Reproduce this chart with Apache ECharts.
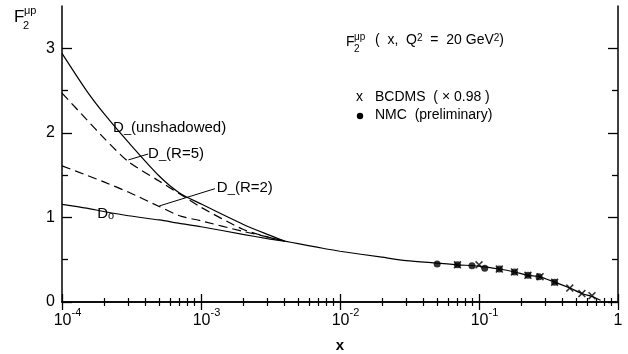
<!DOCTYPE html>
<html><head><meta charset="utf-8">
<script src="https://cdn.jsdelivr.net/npm/echarts@6/dist/echarts.min.js"></script>
<style>html,body{margin:0;padding:0;background:#fff}#c{width:628px;height:354px}</style>
</head><body><div id="c"></div>
<script>
// ---- tick values ----
const xTicksMajor = [1e-4, 1e-3, 1e-2, 1e-1, 1];
const xTicksMinor = [2e-4,3e-4,4e-4,5e-4,6e-4,7e-4,8e-4,9e-4,
                     2e-3,3e-3,4e-3,5e-3,6e-3,7e-3,8e-3,9e-3,
                     2e-2,3e-2,4e-2,5e-2,6e-2,7e-2,8e-2,9e-2,
                     0.2,0.3,0.4,0.5,0.6,0.7,0.8,0.9];
const yTicksMajor = [0, 1, 2, 3];
const yTicksMinor = [0.5, 1.5, 2.5];

// ---- model curves (small x, split) ----
const curveX      = [1e-4, 1.5e-4, 2e-4, 3e-4, 5e-4, 7e-4, 1e-3, 2e-3, 3e-3, 4e-3];
const dUnshadowed = [2.94, 2.50, 2.23, 1.89, 1.49, 1.29, 1.16, 0.92, 0.80, 0.72];
const dR5         = [2.47, 2.16, 1.94, 1.66, 1.43, 1.28, 1.12, 0.86, 0.77, 0.72];
const dR2         = [1.61, 1.50, 1.42, 1.30, 1.13, 1.02, 0.96, 0.835, 0.77, 0.72];
const d0          = [1.155, 1.11, 1.07, 1.02, 0.97, 0.93, 0.89, 0.80, 0.75, 0.72];

// ---- common curve (large x) ----
const commonX = [4e-3, 5e-3, 7e-3, 1e-2, 2e-2, 3e-2, 5e-2, 7e-2, 0.1, 0.14, 0.18, 0.225, 0.27, 0.35, 0.45, 0.55, 0.65, 0.75];
const commonY = [0.72, 0.69, 0.645, 0.60, 0.53, 0.49, 0.46, 0.44, 0.425, 0.39, 0.355, 0.315, 0.30, 0.235, 0.165, 0.10, 0.065, 0.02];

// ---- data ----
const nmcX    = [0.05, 0.07, 0.089, 0.11, 0.14, 0.18, 0.225, 0.27, 0.35];
const nmcY    = [0.45, 0.44, 0.43, 0.40, 0.39, 0.355, 0.315, 0.30, 0.235];
const bcdmsX  = [0.07, 0.10, 0.14, 0.18, 0.225, 0.275, 0.35, 0.45, 0.55, 0.65];
const bcdmsY  = [0.44, 0.44, 0.39, 0.355, 0.315, 0.30, 0.235, 0.165, 0.10, 0.075];

// ---- annotation anchors (data coords) ----
const labelUnsh = [2.33e-4, 2.08];
const labelR5   = [4.16e-4, 1.77];
const labelR2   = [1.30e-3, 1.37];
const labelD0   = [1.79e-4, 1.06];
const arrowR5   = [[4.17e-4, 1.75], [3.0e-4, 1.68]];
const arrowR2   = [[1.26e-3, 1.34], [5.0e-4, 1.135]];

const FONT = 'Liberation Sans';
const zip = (xs, ys) => xs.map((x, i) => [x, ys[i]]);

const chart = echarts.init(document.getElementById('c'), null, {renderer: 'canvas'});

const baseX = {type: 'log', logBase: 10, min: 1e-4, max: 1, gridIndex: 0, splitLine: {show: false}};
const baseY = {type: 'value', min: 0, max: 3.5, gridIndex: 0, splitLine: {show: false}};
const axLine = {show: true, lineStyle: {color: '#000', width: 1.5}};

const xFmt = v => {
  const e = Math.round(Math.log10(v));
  return e === 0 ? '{b|1}' : '{p|}{b|10}{s|' + e + '}';
};

const lineCommon = {type: 'line', showSymbol: false, xAxisIndex: 0, yAxisIndex: 0, smooth: 0.25, silent: true};

chart.setOption({
  animation: false,
  backgroundColor: '#fff',
  grid: {left: 62, right: 10, top: 6, bottom: 52, containLabel: false, outerBoundsMode: 'none'},
  xAxis: [
    Object.assign({}, baseX, {position: 'bottom', axisLine: axLine,
      axisTick: {show: true, inside: true, length: 8, lineStyle: {color: '#000', width: 1.3}, customValues: xTicksMajor},
      axisLabel: {show: true, margin: 5, customValues: xTicksMajor, formatter: xFmt, color: '#000',
        rich: {
          b: {fontFamily: FONT, fontSize: 16, color: '#000', lineHeight: 22, verticalAlign: 'bottom'},
          s: {fontFamily: FONT, fontSize: 11, color: '#000', lineHeight: 12, verticalAlign: 'top'},
          p: {width: 11}
        }},
      name: 'x', nameLocation: 'middle', nameGap: 36,
      nameTextStyle: {fontFamily: FONT, fontSize: 15, fontWeight: 'bold', color: '#000'}}),
    Object.assign({}, baseX, {position: 'bottom', axisLine: {show: false},
      axisTick: {show: true, inside: true, length: 4, lineStyle: {color: '#000', width: 1.2}, customValues: xTicksMinor},
      axisLabel: {show: false}}),
    Object.assign({}, baseX, {position: 'top', axisLine: axLine,
      axisTick: {show: true, inside: true, length: 8, lineStyle: {color: '#000', width: 1.3}, customValues: xTicksMajor},
      axisLabel: {show: false}}),
    Object.assign({}, baseX, {position: 'top', axisLine: {show: false},
      axisTick: {show: true, inside: true, length: 4, lineStyle: {color: '#000', width: 1.2}, customValues: xTicksMinor},
      axisLabel: {show: false}})
  ],
  yAxis: [
    Object.assign({}, baseY, {position: 'left', axisLine: axLine,
      axisTick: {show: true, inside: true, length: 10, lineStyle: {color: '#000', width: 1.3}, customValues: yTicksMajor},
      axisLabel: {show: true, margin: 7, customValues: yTicksMajor, fontFamily: FONT, fontSize: 16, color: '#000'}}),
    Object.assign({}, baseY, {position: 'left', axisLine: {show: false},
      axisTick: {show: true, inside: true, length: 6, lineStyle: {color: '#000', width: 1.3}, customValues: yTicksMinor},
      axisLabel: {show: false}}),
    Object.assign({}, baseY, {position: 'right', axisLine: axLine,
      axisTick: {show: true, inside: true, length: 10, lineStyle: {color: '#000', width: 1.3}, customValues: yTicksMajor},
      axisLabel: {show: false}}),
    Object.assign({}, baseY, {position: 'right', axisLine: {show: false},
      axisTick: {show: true, inside: true, length: 6, lineStyle: {color: '#000', width: 1.3}, customValues: yTicksMinor},
      axisLabel: {show: false}})
  ],
  series: [
    Object.assign({}, lineCommon, {name: 'D- unshadowed', data: zip(curveX, dUnshadowed),
      lineStyle: {color: '#000', width: 1.2}}),
    Object.assign({}, lineCommon, {name: 'D- R=5', data: zip(curveX, dR5),
      lineStyle: {color: '#000', width: 1.2, type: [9, 5]},
      markLine: {silent: true, symbol: ['none', 'arrow'], symbolSize: [0, 7], animation: false,
        lineStyle: {color: '#000', width: 1, type: 'solid'}, label: {show: false},
        data: [
          [{coord: arrowR5[0]}, {coord: arrowR5[1]}],
          [{coord: arrowR2[0]}, {coord: arrowR2[1]}]
        ]}}),
    Object.assign({}, lineCommon, {name: 'D- R=2', data: zip(curveX, dR2),
      lineStyle: {color: '#000', width: 1.2, type: [9, 5]}}),
    Object.assign({}, lineCommon, {name: 'D0', data: zip(curveX, d0),
      lineStyle: {color: '#000', width: 1.2}}),
    Object.assign({}, lineCommon, {name: 'common', data: zip(commonX, commonY),
      lineStyle: {color: '#000', width: 1.2}}),
    {type: 'scatter', name: 'NMC', xAxisIndex: 0, yAxisIndex: 0, silent: true,
      data: zip(nmcX, nmcY), symbol: 'circle', symbolSize: 7, itemStyle: {color: '#000'}},
    {type: 'scatter', name: 'BCDMS', xAxisIndex: 0, yAxisIndex: 0, silent: true,
      data: zip(bcdmsX, bcdmsY),
      symbol: 'path://M0,1.4L1.4,0L5,3.6L8.6,0L10,1.4L6.4,5L10,8.6L8.6,10L5,6.4L1.4,10L0,8.6L3.6,5Z',
      symbolSize: 8, itemStyle: {color: '#000'}}
  ]
});

function px(p) { return chart.convertToPixel({xAxisIndex: 0, yAxisIndex: 0}, p); }

const pU = px(labelUnsh), p5 = px(labelR5), p2 = px(labelR2), p0 = px(labelD0);
const richD = {
  d: {fontFamily: FONT, fontSize: 15, fill: '#000', verticalAlign: 'bottom', lineHeight: 18},
  m: {fontFamily: FONT, fontSize: 13, fill: '#000', verticalAlign: 'bottom', lineHeight: 18},
  o: {fontFamily: FONT, fontSize: 11, fill: '#000', verticalAlign: 'bottom', lineHeight: 9},
  t: {fontFamily: FONT, fontSize: 15, fill: '#000', verticalAlign: 'bottom', lineHeight: 18}
};
chart.setOption({
  graphic: [
    // Y-axis title
    {type: 'text', left: 14, top: 9, style: {text: 'F', fontFamily: FONT, fontSize: 17, fill: '#000'}},
    {type: 'text', left: 23, top: 20, style: {text: '2', fontFamily: FONT, fontSize: 11, fill: '#000'}},
    {type: 'text', left: 24, top: 5, style: {text: 'μp', fontFamily: FONT, fontSize: 11, fill: '#000'}},
    // header
    {type: 'text', left: 346, top: 35, style: {text: 'F', fontFamily: FONT, fontSize: 14, fill: '#000'}},
    {type: 'text', left: 354, top: 44, style: {text: '2', fontFamily: FONT, fontSize: 10, fill: '#000'}},
    {type: 'text', left: 354, top: 32, style: {text: 'μp', fontFamily: FONT, fontSize: 10, fill: '#000'}},
    {type: 'text', left: 375, top: 33, style: {
      text: '(  x,  Q{s|2}  =  20 GeV{s|2})',
      fontFamily: FONT, fontSize: 14, fill: '#000',
      rich: {s: {fontFamily: FONT, fontSize: 10, fill: '#000', verticalAlign: 'top', lineHeight: 10}}}},
    // legend entries
    {type: 'text', left: 356, top: 90, style: {text: 'x', fontFamily: FONT, fontSize: 14, fill: '#000'}},
    {type: 'text', left: 375, top: 90, style: {text: 'BCDMS  ( × 0.98 )', fontFamily: FONT, fontSize: 14, fill: '#000'}},
    {type: 'circle', shape: {cx: 360, cy: 116, r: 3.2}, style: {fill: '#000'}},
    {type: 'text', left: 375, top: 108, style: {text: 'NMC  (preliminary)', fontFamily: FONT, fontSize: 14, fill: '#000'}},
    // curve labels
    {type: 'text', x: pU[0], y: pU[1], style: {text: '{d|D}{m|_}{t|(unshadowed)}', rich: richD, verticalAlign: 'middle'}},
    {type: 'text', x: p5[0], y: p5[1], style: {text: '{d|D}{m|_}{t|(R=5)}', rich: richD, verticalAlign: 'middle'}},
    {type: 'text', x: p2[0], y: p2[1], style: {text: '{d|D}{m|_}{t|(R=2)}', rich: richD, verticalAlign: 'middle'}},
    {type: 'text', x: p0[0], y: p0[1], style: {text: '{d|D}{o|o}', rich: richD, verticalAlign: 'middle'}}
  ]
});
</script>
</body></html>
